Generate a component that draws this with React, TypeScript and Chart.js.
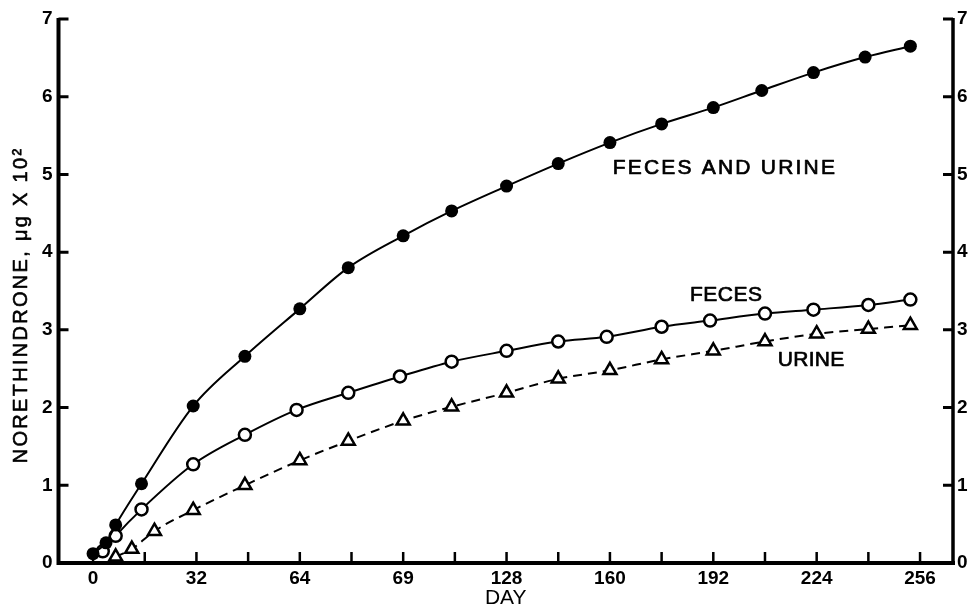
import React, { useEffect, useRef } from 'react';
import { Chart, registerables } from 'chart.js';

Chart.register(...registerables);

// ---- data ----
const fuDays = [0, 4, 7, 15, 31, 47, 64, 79, 96, 111, 128, 144, 160, 176, 192, 207, 223, 239, 253];
const fuValues = [0.12, 0.26, 0.49, 1.02, 2.02, 2.66, 3.27, 3.8, 4.21, 4.53, 4.85, 5.14, 5.41, 5.65, 5.86, 6.08, 6.31, 6.51, 6.65];

const fecesDays = [3, 7, 15, 31, 47, 63, 79, 95, 111, 128, 144, 159, 176, 191, 208, 223, 240, 253];
const fecesValues = [0.15, 0.35, 0.69, 1.27, 1.65, 1.97, 2.19, 2.4, 2.59, 2.73, 2.85, 2.91, 3.04, 3.12, 3.21, 3.26, 3.32, 3.39];

const urineDays = [7, 12, 19, 31, 47, 64, 79, 96, 111, 128, 144, 160, 176, 192, 208, 224, 240, 253];
const urineValues = [0.08, 0.18, 0.41, 0.68, 1.0, 1.32, 1.57, 1.83, 2.01, 2.19, 2.37, 2.48, 2.62, 2.73, 2.85, 2.95, 3.01, 3.06];

const xTickValues = [0, 16, 32, 48, 64, 80, 96, 112, 128, 144, 160, 176, 192, 208, 224, 240, 256];
const xTickLabels = ['0', '', '32', '', '64', '', '69', '', '128', '', '160', '', '192', '', '224', '', '256'];
const yTickValues = [0, 1, 2, 3, 4, 5, 6, 7];

const seriesNames = ['FECES AND URINE', 'FECES', 'URINE'];
const xTitle = 'DAY';
const yTitle = 'NORETHINDRONE, \u03bcg X 10\u00b2';

const FONT = '"Liberation Sans", Arial, Helvetica, sans-serif';

const toXY = (xs: number[], ys: number[]) => xs.map((x, i) => ({ x, y: ys[i] }));

const framePlugin = {
  id: 'frame',
  beforeDraw(chart: any) {
    const ctx = chart.ctx;
    ctx.save();
    ctx.fillStyle = '#ffffff';
    ctx.fillRect(0, 0, chart.width, chart.height);
    ctx.restore();
  },
  afterDraw(chart: any) {
    const ctx = chart.ctx;
    const { left, right, top, bottom } = chart.chartArea;
    const xs = chart.scales.x;
    const ys = chart.scales.y;
    ctx.save();
    ctx.strokeStyle = '#000';
    ctx.lineCap = 'butt';
    // axis lines
    ctx.lineWidth = 4;
    ctx.beginPath();
    ctx.moveTo(left, top - 1);
    ctx.lineTo(left, bottom + 2);
    ctx.moveTo(left - 2, bottom);
    ctx.lineTo(right + 2, bottom);
    ctx.stroke();
    ctx.lineWidth = 3.5;
    ctx.beginPath();
    ctx.moveTo(right, top - 1);
    ctx.lineTo(right, bottom + 2);
    ctx.stroke();
    // inward ticks, y
    ctx.lineWidth = 3;
    ctx.beginPath();
    yTickValues.forEach((v) => {
      const py = ys.getPixelForValue(v);
      if (v === 0) return;
      ctx.moveTo(left, py);
      ctx.lineTo(left + 10, py);
      ctx.moveTo(right, py);
      ctx.lineTo(right - 10, py);
    });
    ctx.stroke();
    // inward ticks, x
    ctx.lineWidth = 2.5;
    ctx.beginPath();
    xTickValues.forEach((v) => {
      const px = xs.getPixelForValue(v);
      ctx.moveTo(px, bottom);
      ctx.lineTo(px, bottom - 11);
    });
    ctx.stroke();

    // series labels
    ctx.fillStyle = '#000';
    ctx.strokeStyle = '#000';
    ctx.lineWidth = 0.7;
    ctx.lineJoin = 'round';
    ctx.textAlign = 'center';
    ctx.textBaseline = 'middle';
    ctx.font = `21px ${FONT}`;
    const labelPos = [
      { x: 195.6, y: 5.08, sp: '2.2px' },
      { x: 196, y: 3.44, sp: '0.5px' },
      { x: 222.3, y: 2.61, sp: '0.3px' },
    ];
    seriesNames.forEach((name, i) => {
      const p = labelPos[i];
      (ctx as any).letterSpacing = p.sp;
      const px = xs.getPixelForValue(p.x);
      const py = ys.getPixelForValue(p.y);
      ctx.fillText(name, px, py);
      ctx.strokeText(name, px, py);
    });

    // y title
    (ctx as any).letterSpacing = '2.3px';
    ctx.font = `20px ${FONT}`;
    ctx.lineWidth = 0.6;
    ctx.translate(21, 305);
    ctx.rotate(-Math.PI / 2);
    ctx.fillText(yTitle, 0, 0);
    ctx.strokeText(yTitle, 0, 0);
    ctx.restore();
  },
};

export default function App() {
  const ref = useRef<HTMLCanvasElement | null>(null);

  useEffect(() => {
    if (!ref.current) return;
    const tickFont = { family: FONT, size: 19, weight: 'bold' as const };
    const chart = new Chart(ref.current, {
      type: 'line',
      data: {
        datasets: [
          {
            label: seriesNames[0],
            data: toXY(fuDays, fuValues),
            borderColor: '#000',
            borderWidth: 2,
            backgroundColor: '#000',
            pointBackgroundColor: '#000',
            pointBorderColor: '#000',
            pointRadius: 6.5,
            pointBorderWidth: 0,
            pointStyle: 'circle',
            cubicInterpolationMode: 'monotone',
            fill: false,
          },
          {
            label: seriesNames[1],
            data: toXY(fecesDays, fecesValues),
            borderColor: '#000',
            borderWidth: 2,
            pointBackgroundColor: '#fff',
            pointBorderColor: '#000',
            pointRadius: 6,
            pointBorderWidth: 2.5,
            pointStyle: 'circle',
            cubicInterpolationMode: 'monotone',
            fill: false,
          },
          {
            label: seriesNames[2],
            data: toXY(urineDays, urineValues),
            borderColor: '#000',
            borderWidth: 2,
            borderDash: [9, 6],
            pointBackgroundColor: '#fff',
            pointBorderColor: '#000',
            pointRadius: 7.5,
            pointBorderWidth: 2.5,
            pointStyle: 'triangle',
            cubicInterpolationMode: 'monotone',
            fill: false,
          },
        ],
      },
      options: {
        animation: false,
        responsive: false,
        maintainAspectRatio: false,
        layout: { padding: { top: 19, left: 0, right: 0, bottom: 0 } },
        plugins: {
          legend: { display: false },
          tooltip: { enabled: false },
          title: { display: false },
        },
        scales: {
          x: {
            type: 'linear',
            min: -10.7,
            max: 266.2,
            grid: { display: false, drawTicks: false },
            border: { display: false },
            afterBuildTicks: (scale: any) => {
              scale.ticks = xTickValues.map((v) => ({ value: v }));
            },
            afterFit: (scale: any) => {
              scale.height = 43;
            },
            ticks: {
              autoSkip: false,
              maxRotation: 0,
              padding: 4,
              color: '#000',
              font: tickFont,
              callback: (value: any) => {
                const i = xTickValues.indexOf(Number(value));
                return i >= 0 ? xTickLabels[i] : '';
              },
            },
            title: {
              display: true,
              text: xTitle,
              color: '#000',
              font: { family: FONT, size: 21, lineHeight: 1 },
              padding: { top: 0, bottom: -3 },
            },
          },
          y: {
            type: 'linear',
            position: 'left',
            min: 0,
            max: 7,
            grid: { display: false, drawTicks: false },
            border: { display: false },
            afterBuildTicks: (scale: any) => {
              scale.ticks = yTickValues.map((v) => ({ value: v }));
            },
            afterFit: (scale: any) => {
              scale.width = 58.5;
            },
            ticks: {
              padding: 6,
              color: '#000',
              font: tickFont,
              callback: (value: any) => String(value),
            },
          },
          yRight: {
            type: 'linear',
            position: 'right',
            min: 0,
            max: 7,
            grid: { display: false, drawTicks: false },
            border: { display: false },
            afterBuildTicks: (scale: any) => {
              scale.ticks = yTickValues.map((v) => ({ value: v }));
            },
            afterFit: (scale: any) => {
              scale.width = 18;
            },
            ticks: {
              padding: 4,
              color: '#000',
              font: tickFont,
              callback: (value: any) => String(value),
            },
          },
        },
      },
      plugins: [framePlugin],
    } as any);
    return () => chart.destroy();
  }, []);

  return (
    <div style={{ position: 'absolute', left: 0, top: 0, width: 971, height: 606, background: '#fff' }}>
      <canvas ref={ref} width={971} height={606} style={{ display: 'block', width: 971, height: 606 }} />
    </div>
  );
}
